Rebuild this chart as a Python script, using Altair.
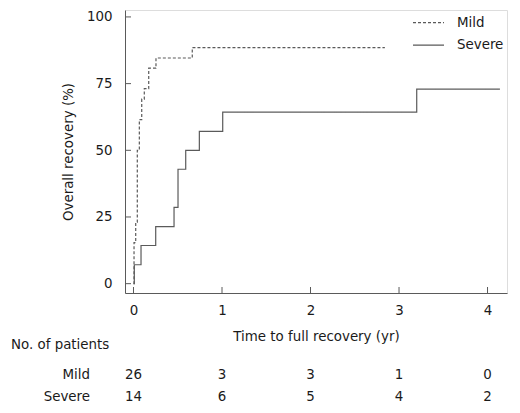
import altair as alt
import pandas as pd

# ---- data ----
mild_time = [0, 0.006, 0.025, 0.043, 0.066, 0.093, 0.122, 0.172, 0.254, 0.664, 2.84]
mild_rec = [0, 15.4, 23.1, 50.0, 61.5, 69.2, 73.1, 80.8, 84.6, 88.5, 88.5]
severe_time = [0, 0.009, 0.085, 0.251, 0.458, 0.503, 0.59, 0.744, 1.008, 3.2, 4.14]
severe_rec = [0, 7.1, 14.3, 21.4, 28.6, 42.9, 50.0, 57.1, 64.3, 72.9, 72.9]

series = ["Mild", "Severe"]
x_ticks = [0, 1, 2, 3, 4]
y_ticks = [0, 25, 50, 75, 100]
risk_mild = [26, 3, 3, 1, 0]
risk_severe = [14, 6, 5, 4, 2]
table_title = "No. of patients"

FONT = "DejaVu Sans"
FS = 13.4
GREY = "#5a5a5a"
TXT = "#1a1a1a"
W, H = 382, 283

curves = pd.concat([
    pd.DataFrame({"t": mild_time, "r": mild_rec, "g": "Mild"}),
    pd.DataFrame({"t": severe_time, "r": severe_rec, "g": "Severe"}),
])

xs = alt.Scale(domain=[-0.096, 4.22], nice=False, zero=False)
ys = alt.Scale(domain=[-3.5, 102.6], nice=False, zero=False)
dash = alt.Scale(domain=series, range=[[3, 2], [1, 0]])

x_axis = alt.Axis(values=x_ticks, ticks=False, grid=False, domainColor=GREY,
                  labelFont=FONT, labelFontSize=FS, labelColor=TXT, labelPadding=10,
                  title="Time to full recovery (yr)", titleFont=FONT, titleFontSize=FS,
                  titleFontWeight="normal", titleColor=TXT, titlePadding=13, format="d")
y_axis = alt.Axis(values=y_ticks, ticks=False, grid=False, domainColor=GREY,
                  labelFont=FONT, labelFontSize=FS, labelColor=TXT, labelPadding=13,
                  title="Overall recovery (%)", titleFont=FONT, titleFontSize=FS,
                  titleFontWeight="normal", titleColor=TXT, titlePadding=11, format="d")

lines = alt.Chart(curves).mark_line(interpolate="step-after", color=GREY, strokeWidth=1.2).encode(
    x=alt.X("t:Q", scale=xs, axis=x_axis),
    y=alt.Y("r:Q", scale=ys, axis=y_axis),
    strokeDash=alt.StrokeDash("g:N", scale=dash, legend=None),
    detail="g:N",
)

xt = alt.Chart(pd.DataFrame({"t": x_ticks})).mark_rule(color=GREY).encode(
    x=alt.X("t:Q", scale=xs), y=alt.value(H), y2=alt.value(H - 6))
yt = alt.Chart(pd.DataFrame({"r": y_ticks})).mark_rule(color=GREY).encode(
    y=alt.Y("r:Q", scale=ys), x=alt.value(0), x2=alt.value(6))

layers = [lines, xt, yt]

# legend
for i, s in enumerate(series):
    ly = 12.7 + 22.5 * i
    d = pd.DataFrame({"g": [s]})
    layers.append(alt.Chart(d).mark_rule(color=GREY, strokeWidth=1.2).encode(
        x=alt.value(288), x2=alt.value(319), y=alt.value(ly),
        strokeDash=alt.StrokeDash("g:N", scale=dash, legend=None)))
    layers.append(alt.Chart(d).mark_text(align="left", baseline="middle", font=FONT,
                                         fontSize=FS, color=TXT).encode(
        x=alt.value(332), y=alt.value(ly), text="g:N"))

# risk table
layers.append(alt.Chart(pd.DataFrame({"s": [table_title]})).mark_text(
    align="left", baseline="alphabetic", font=FONT, fontSize=FS, color=TXT).encode(
    x=alt.value(-114), y=alt.value(339), text="s:N"))
for s, counts, yy in [("Mild", risk_mild, 369), ("Severe", risk_severe, 391)]:
    layers.append(alt.Chart(pd.DataFrame({"s": [s]})).mark_text(
        align="right", baseline="alphabetic", font=FONT, fontSize=FS, color=TXT).encode(
        x=alt.value(-35), y=alt.value(yy), text="s:N"))
    layers.append(alt.Chart(pd.DataFrame({"t": x_ticks, "n": counts})).mark_text(
        align="center", baseline="alphabetic", font=FONT, fontSize=FS, color=TXT).encode(
        x=alt.X("t:Q", scale=xs), y=alt.value(yy), text="n:Q"))

chart = alt.layer(*layers).properties(
    width=W, height=H,
    autosize=alt.AutoSizeParams(type="none"),
    padding={"left": 117, "top": 2, "right": 5, "bottom": 110},
).configure_view(stroke=None).configure(background="white")

chart.save("out.html", embed_options={"renderer": "svg", "actions": False})
